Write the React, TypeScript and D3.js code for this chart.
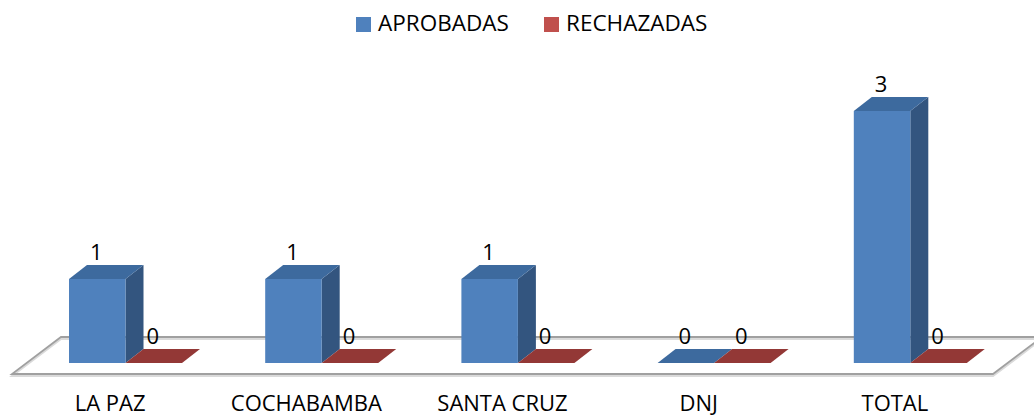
import React from "react";
import * as d3 from "d3";

// chart values
const categories = ["LA PAZ", "COCHABAMBA", "SANTA CRUZ", "DNJ", "TOTAL"];
const seriesNames = ["APROBADAS", "RECHAZADAS"];
const aprobadas = [1, 1, 1, 0, 3];
const rechazadas = [0, 0, 0, 0, 0];
const yTicks = [0, 1, 2, 3];

const W = 1034;
const H = 418;
const FONT = "'Open Sans', 'Liberation Sans', sans-serif";

const colors = {
  APROBADAS: { front: "#4F81BD", side: "#33557F", top: "#3D6A9E" },
  RECHAZADAS: { front: "#C0504D", side: "#7F3331", top: "#933836" },
};

// floor geometry (front edge + depth vector)
const floorLeft = 12;
const floorRight = 993;
const floorFrontY = 374;
const floorDepth = { dx: 49, dy: -37 };
// bar placement inside the floor and bar depth
const barShift = { dx: 13, dy: -11 };
const barDepth = { dx: 18, dy: -14 };

function App() {
  const x = d3.scaleBand<string>().domain(categories).range([floorLeft, floorRight]);
  const xs = d3.scaleBand<string>().domain(seriesNames).range([0, 113]);
  const h = d3.scaleLinear().domain([0, d3.max(yTicks) as number]).range([0, 252]);
  const baseY = floorFrontY + barShift.dy;

  const floorPts: [number, number][] = [
    [floorLeft, floorFrontY],
    [floorRight, floorFrontY],
    [floorRight + floorDepth.dx, floorFrontY + floorDepth.dy],
    [floorLeft + floorDepth.dx, floorFrontY + floorDepth.dy],
  ];
  const line = d3.line();

  const bars: React.ReactNode[] = [];
  const labels: React.ReactNode[] = [];
  categories.forEach((c, i) => {
    [aprobadas[i], rechazadas[i]].forEach((v, s) => {
      const name = seriesNames[s] as keyof typeof colors;
      const col = colors[name];
      const x0 = (x(c) as number) + 44 + barShift.dx + (xs(name) as number);
      const x1 = x0 + xs.bandwidth();
      const top = baseY - h(v);
      const dx = barDepth.dx;
      const dy = barDepth.dy;
      const key = `${c}-${name}`;
      if (v > 0) {
        bars.push(
          <g key={key}>
            <path d={line([[x1, top], [x1 + dx, top + dy], [x1 + dx, baseY + dy], [x1, baseY]]) + "Z"} fill={col.side} />
            <path d={line([[x0, top], [x0 + dx, top + dy], [x1 + dx, top + dy], [x1, top]]) + "Z"} fill={col.top} />
            <rect x={x0} y={top} width={x1 - x0} height={baseY - top} fill={col.front} />
          </g>
        );
      } else {
        bars.push(
          <path key={key} d={line([[x0, baseY], [x0 + dx, baseY + dy], [x1 + dx, baseY + dy], [x1, baseY]]) + "Z"} fill={col.top} />
        );
      }
      labels.push(
        <text key={key + "-l"} x={(x0 + x1) / 2 - 1} y={top + dy - 14} textAnchor="middle" dominantBaseline="central" fontFamily={FONT} fontSize={22} fill="#000">
          {v}
        </text>
      );
    });
  });

  return (
    <svg width={W} height={H} style={{ position: "absolute", left: 0, top: 0, background: "#fff" }}>
      {/* legend */}
      <g fontFamily={FONT} fontSize={22.5}>
        <rect x={356} y={17} width={15} height={15} fill={colors.APROBADAS.front} />
        <text x={378} y={31}>{seriesNames[0]}</text>
        <rect x={544} y={17} width={15} height={15} fill={colors.RECHAZADAS.front} />
        <text x={566} y={31}>{seriesNames[1]}</text>
      </g>
      {/* floor */}
      <path d={line(floorPts.map(([a, b]) => [a, b + 2])) + "Z"} fill="none" stroke="#dadada" strokeWidth={2} />
      <path d={line(floorPts) + "Z"} fill="none" stroke="#a0a0a0" strokeWidth={1.8} />
      {bars}
      {labels}
      {/* category labels */}
      {categories.map((c) => (
        <text key={c} x={(x(c) as number) + x.bandwidth() / 2} y={411} textAnchor="middle" fontFamily={FONT} fontSize={22} fill="#000">
          {c}
        </text>
      ))}
    </svg>
  );
}

export default App;
